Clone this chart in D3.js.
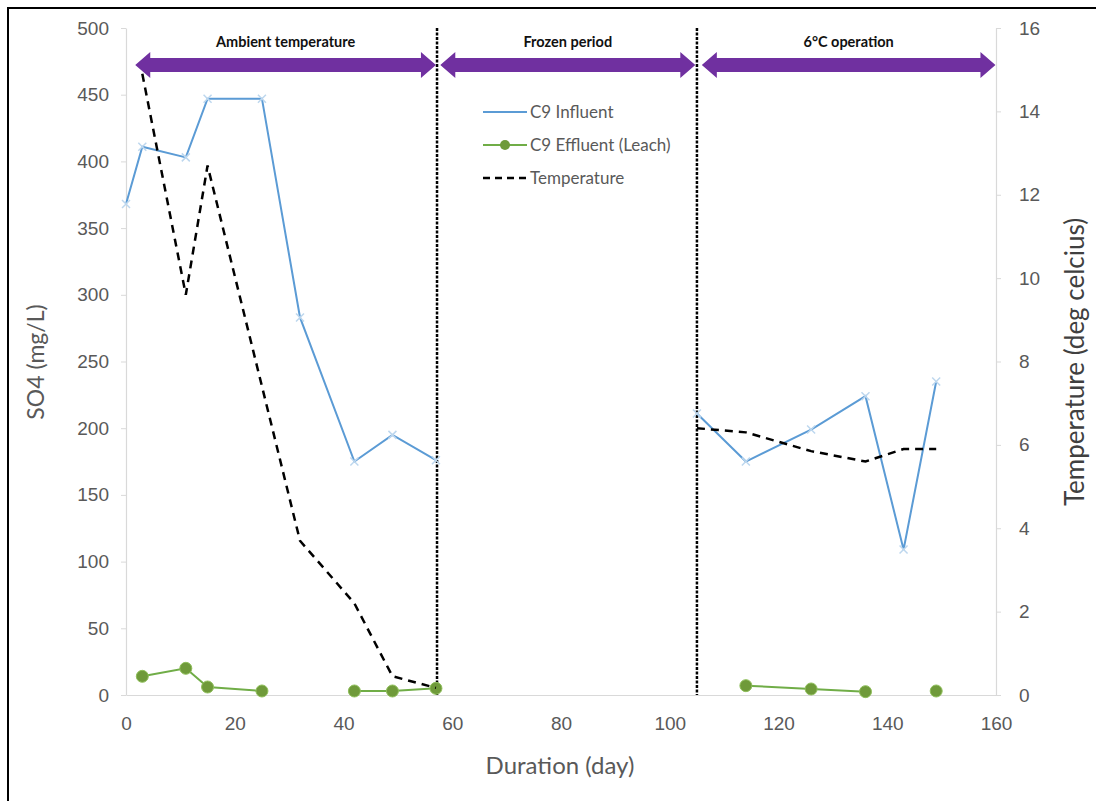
<!DOCTYPE html>
<html>
<head>
<meta charset="utf-8">
<script src="https://cdn.jsdelivr.net/npm/d3@7"></script>
<style>
  html, body { margin: 0; padding: 0; background: #fff; }
  svg { display: block; font-family: Lato, "Open Sans", sans-serif; }
</style>
</head>
<body>
<svg id="chart" width="1096" height="801"></svg>
<script>
// Sampling days (null values leave gaps in a series)
const days = [0, 3, 11, 15, 25, 32, 42, 49, 57, 105, 114, 126, 136, 143, 149];

// SO4 concentrations (mg/L)
const influent = [368, 411, 403, 447, 447, 283, 175, 195, 176, 211, 175, 199, 224, 109, 235];
const effluent = [null, 14, 20, 6, 3, null, 3, 3, 5, null, 7, 4.5, 2.5, null, 3];

// Air temperature (deg C); missing readings are skipped, not broken
const temperature = [null, 14.9, 9.6, 12.7, null, 3.7, 2.2, 0.45, 0.17, 6.4, 6.3, 5.85, 5.6, 5.9, 5.9];

// Operating phases and the boundaries between them (days)
const phaseLabels = ["Ambient temperature", "Frozen period", "6°C operation"];
const phaseStart = [1.7, 57.8, 105.9];
const phaseEnd = [57.0, 104.7, 159.9];
const phaseBreaks = [57.2, 105];

const xTicks = [0, 20, 40, 60, 80, 100, 120, 140, 160];
const yLeftTicks = [0, 50, 100, 150, 200, 250, 300, 350, 400, 450, 500];
const yRightTicks = [0, 2, 4, 6, 8, 10, 12, 14, 16];

const svg = d3.select("#chart");

const x = d3.scaleLinear().domain([0, 160]).range([126, 996]);
const yL = d3.scaleLinear().domain([0, 500]).range([695, 28]);
const yR = d3.scaleLinear().domain([0, 16]).range([695, 28]);

const axisGrey = "#d9d9d9";
const textGrey = "#595959";

// outer frame (left and top edges)
svg.append("line").attr("x1", 8).attr("x2", 8).attr("y1", 7).attr("y2", 801)
  .attr("stroke", "#000").attr("stroke-width", 2);
svg.append("line").attr("x1", 7).attr("x2", 1096).attr("y1", 8).attr("y2", 8)
  .attr("stroke", "#000").attr("stroke-width", 2);

// axes
const styleAxis = g => {
  g.select(".domain").attr("stroke", axisGrey).attr("stroke-width", 1.2);
  g.selectAll(".tick line").attr("stroke", axisGrey);
  g.selectAll(".tick text").attr("fill", textGrey).attr("font-size", 19);
};

svg.append("g").attr("transform", "translate(0,695)")
  .call(d3.axisBottom(x).tickValues(xTicks).tickSize(0).tickPadding(22).tickSizeOuter(0))
  .call(styleAxis);

svg.append("g").attr("transform", "translate(126,0)")
  .call(d3.axisLeft(yL).tickValues(yLeftTicks).tickSize(5).tickPadding(12).tickSizeOuter(0))
  .call(styleAxis);

svg.append("g").attr("transform", "translate(996,0)")
  .call(d3.axisRight(yR).tickValues(yRightTicks).tickSize(5).tickPadding(18).tickSizeOuter(0))
  .call(styleAxis);

// axis titles
svg.append("text").attr("x", 560).attr("y", 774).attr("text-anchor", "middle")
  .attr("font-size", 24).attr("fill", textGrey).text("Duration (day)");
svg.append("text").attr("transform", "translate(44,362) rotate(-90)").attr("text-anchor", "middle")
  .attr("font-size", 23).attr("fill", textGrey).text("SO4 (mg/L)");
svg.append("text").attr("transform", "translate(1084,362) rotate(-90)").attr("text-anchor", "middle")
  .attr("font-size", 26).attr("fill", "#404040").text("Temperature (deg celcius)");

// phase boundaries
svg.append("g").selectAll("line").data(phaseBreaks).join("line")
  .attr("x1", d => x(d)).attr("x2", d => x(d))
  .attr("y1", yL(500)).attr("y2", yL(0))
  .attr("stroke", "#000").attr("stroke-width", 2.5).attr("stroke-dasharray", "3,1.5");

// phase arrows and their titles
const arrowY = 65, shaftHalf = 7, headHalf = 13, headLen = 15;
const arrowPath = (a, b) => {
  const p = [
    [a, arrowY], [a + headLen, arrowY - headHalf], [a + headLen, arrowY - shaftHalf],
    [b - headLen, arrowY - shaftHalf], [b - headLen, arrowY - headHalf], [b, arrowY],
    [b - headLen, arrowY + headHalf], [b - headLen, arrowY + shaftHalf],
    [a + headLen, arrowY + shaftHalf], [a + headLen, arrowY + headHalf]
  ];
  return "M" + p.map(q => q.join(",")).join("L") + "Z";
};
const phases = phaseLabels.map((label, i) => ({ label, s: phaseStart[i], e: phaseEnd[i] }));
const pg = svg.append("g");
pg.selectAll("path").data(phases).join("path")
  .attr("d", d => arrowPath(x(d.s), x(d.e)))
  .attr("fill", "#7030a0");
pg.selectAll("text").data(phases).join("text")
  .attr("x", d => (x(d.s) + x(d.e)) / 2).attr("y", 47)
  .attr("text-anchor", "middle").attr("font-size", 14.5).attr("font-weight", "bold")
  .attr("fill", "#111").text(d => d.label);

// series
const rows = days.map((d, i) => ({ day: d, inf: influent[i], eff: effluent[i], temp: temperature[i] }));

const lineInf = d3.line().x(d => x(d.day)).y(d => yL(d.inf));
const lineEff = d3.line().defined(d => d.eff != null).x(d => x(d.day)).y(d => yL(d.eff));
const lineTemp = d3.line().x(d => x(d.day)).y(d => yR(d.temp));

// influent and temperature: each line breaks across the frozen period
const before = rows.filter(d => d.day <= 57);
const after = rows.filter(d => d.day >= 105);

svg.append("g").selectAll("path").data([before, after]).join("path")
  .attr("d", lineInf).attr("fill", "none")
  .attr("stroke", "#5b9bd5").attr("stroke-width", 2);
svg.append("g").selectAll("path").data(rows).join("path")
  .attr("transform", d => `translate(${x(d.day)},${yL(d.inf)})`)
  .attr("d", "M-4,-4L4,4M-4,4L4,-4")
  .attr("stroke", "#bdd7ee").attr("stroke-width", 1.5);

svg.append("path").datum(rows).attr("d", lineEff).attr("fill", "none")
  .attr("stroke", "#70ad47").attr("stroke-width", 2);
svg.append("g").selectAll("circle").data(rows.filter(d => d.eff != null)).join("circle")
  .attr("cx", d => x(d.day)).attr("cy", d => yL(d.eff)).attr("r", 6)
  .attr("fill", "#6f9a3a").attr("stroke", "#8fbf5a").attr("stroke-width", 1);

const tempRuns = [before, after].map(run => run.filter(d => d.temp != null));
svg.append("g").selectAll("path").data(tempRuns).join("path")
  .attr("d", lineTemp).attr("fill", "none")
  .attr("stroke", "#000").attr("stroke-width", 2.5).attr("stroke-dasharray", "8,6");

// legend
const legend = svg.append("g").attr("transform", "translate(483,0)");
const legItems = [
  { label: "C9 Influent", y: 112 },
  { label: "C9 Effluent (Leach)", y: 145 },
  { label: "Temperature", y: 178 }
];
legend.append("line").attr("x1", 0).attr("x2", 44).attr("y1", 112).attr("y2", 112)
  .attr("stroke", "#5b9bd5").attr("stroke-width", 2);
legend.append("line").attr("x1", 0).attr("x2", 44).attr("y1", 145).attr("y2", 145)
  .attr("stroke", "#70ad47").attr("stroke-width", 2);
legend.append("circle").attr("cx", 22).attr("cy", 145).attr("r", 5).attr("fill", "#6f9a3a");
legend.append("line").attr("x1", 0).attr("x2", 44).attr("y1", 178).attr("y2", 178)
  .attr("stroke", "#000").attr("stroke-width", 2.5).attr("stroke-dasharray", "7,5");
legend.selectAll("text").data(legItems).join("text")
  .attr("x", 47).attr("y", d => d.y).attr("dy", "0.35em")
  .attr("font-size", 17).attr("fill", textGrey).text(d => d.label);
</script>
</body>
</html>
